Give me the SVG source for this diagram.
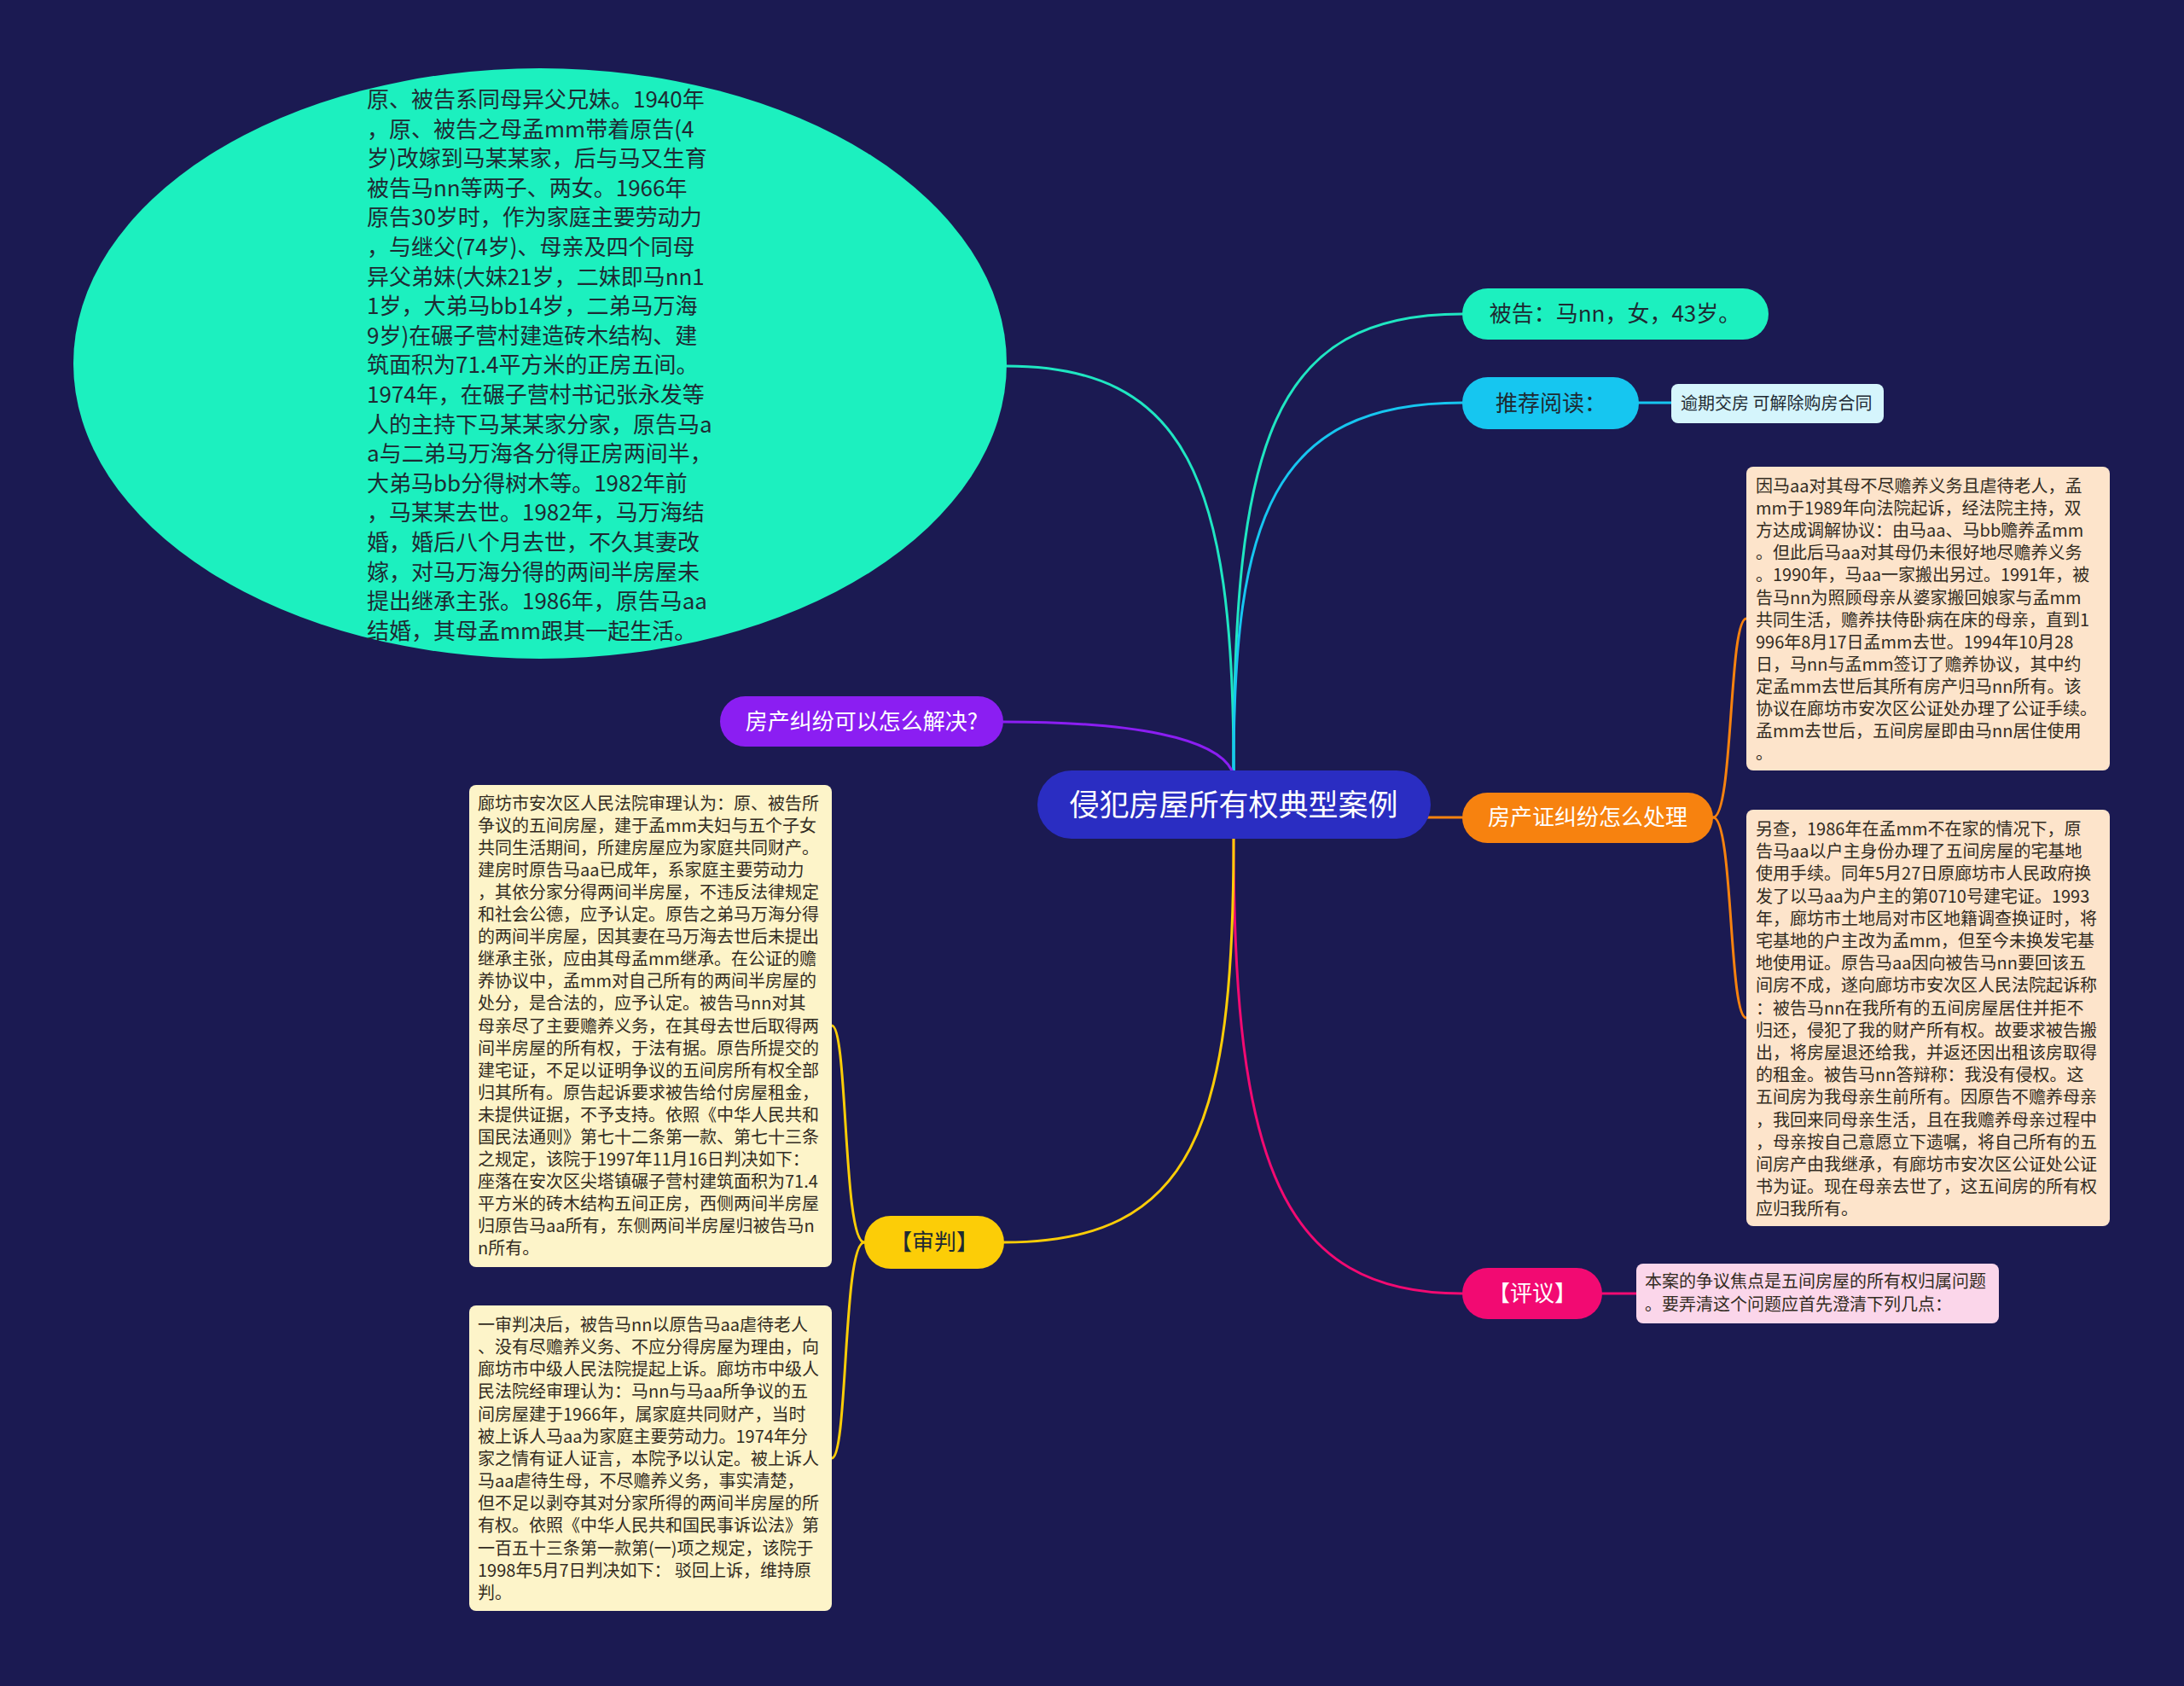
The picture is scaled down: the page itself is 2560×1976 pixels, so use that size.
<svg xmlns="http://www.w3.org/2000/svg" width="2560" height="1976" viewBox="0 0 2560 1976">
<style>
text{font-family:"Noto Sans CJK SC","Noto Sans",sans-serif;}
.conn{fill:none;stroke-width:3;stroke-linecap:round;}
.t26{font-size:26px;}
.t20{font-size:20px;}
.dark{fill:#1e2a33;}
.white{fill:#ffffff;}
.leaftxt{font-size:20px;fill:#332c22;}
.mid{text-anchor:middle;}
</style>
<rect x="0" y="0" width="2560" height="1976" fill="#1b1a52"/>

<g id="connectors">
  <path class="conn" stroke="#1fe6c2" d="M1179 429 C1390 429 1446 560 1446 903"/>
  <path class="conn" stroke="#1fe6c2" d="M1446 903 C1446 520 1490 368 1714 368"/>
  <path class="conn" stroke="#16c6f0" d="M1446 903 C1446 610 1490 472 1714 472"/>
  <path class="conn" stroke="#16c6f0" d="M1921 472 L1959 472"/>
  <path class="conn" stroke="#8b1ef2" d="M1176 846 C1330 846 1425 865 1444 903"/>
  <path class="conn" stroke="#f7820f" d="M1446 958 L1714 958"/>
  <path class="conn" stroke="#f7820f" d="M2008 958 C2032 958 2026 725 2047 725"/>
  <path class="conn" stroke="#f7820f" d="M2008 958 C2032 958 2026 1193 2047 1193"/>
  <path class="conn" stroke="#f20a72" d="M1446 983 C1446 1360 1500 1516 1714 1516"/>
  <path class="conn" stroke="#f20a72" d="M1878 1516 L1918 1516"/>
  <path class="conn" stroke="#fccd07" d="M1446 983 C1446 1320 1400 1456 1177 1456"/>
  <path class="conn" stroke="#fccd07" d="M1013 1456 C988 1456 994 1202 975 1202"/>
  <path class="conn" stroke="#fccd07" d="M1013 1456 C988 1456 994 1709 975 1709"/>
</g>

<g id="node-ellipse">
  <ellipse cx="633" cy="426" rx="547" ry="346" fill="#1cf0bf"/>
  <text class="t26 dark" x="430" y="126">
    <tspan x="430" dy="0">原、被告系同母异父兄妹。1940年</tspan>
    <tspan x="430" dy="34.6">，原、被告之母孟mm带着原告(4</tspan>
    <tspan x="430" dy="34.6">岁)改嫁到马某某家，后与马又生育</tspan>
    <tspan x="430" dy="34.6">被告马nn等两子、两女。1966年</tspan>
    <tspan x="430" dy="34.6">原告30岁时，作为家庭主要劳动力</tspan>
    <tspan x="430" dy="34.6">，与继父(74岁)、母亲及四个同母</tspan>
    <tspan x="430" dy="34.6">异父弟妹(大妹21岁，二妹即马nn1</tspan>
    <tspan x="430" dy="34.6">1岁，大弟马bb14岁，二弟马万海</tspan>
    <tspan x="430" dy="34.6">9岁)在碾子营村建造砖木结构、建</tspan>
    <tspan x="430" dy="34.6">筑面积为71.4平方米的正房五间。</tspan>
    <tspan x="430" dy="34.6">1974年，在碾子营村书记张永发等</tspan>
    <tspan x="430" dy="34.6">人的主持下马某某家分家，原告马a</tspan>
    <tspan x="430" dy="34.6">a与二弟马万海各分得正房两间半，</tspan>
    <tspan x="430" dy="34.6">大弟马bb分得树木等。1982年前</tspan>
    <tspan x="430" dy="34.6">，马某某去世。1982年，马万海结</tspan>
    <tspan x="430" dy="34.6">婚，婚后八个月去世，不久其妻改</tspan>
    <tspan x="430" dy="34.6">嫁，对马万海分得的两间半房屋未</tspan>
    <tspan x="430" dy="34.6">提出继承主张。1986年，原告马aa</tspan>
    <tspan x="430" dy="34.6">结婚，其母孟mm跟其一起生活。</tspan>
  </text>
</g>

<g id="node-center">
  <rect x="1216" y="903" width="461" height="80" rx="40" fill="#2a2dc2"/>
  <text class="white mid" x="1446" y="956" font-size="35">侵犯房屋所有权典型案例</text>
</g>

<g id="node-beigao">
  <rect x="1714" y="338" width="359" height="60" rx="30" fill="#1cf0bf"/>
  <text class="t26 dark mid" x="1893" y="377">被告：马nn，女，43岁。</text>
</g>

<g id="node-tuijian">
  <rect x="1714" y="442" width="207" height="61" rx="30" fill="#16c6f0"/>
  <text class="t26 dark mid" x="1818" y="482">推荐阅读：</text>
</g>
<g id="leaf-tuijian">
  <rect x="1959" y="450" width="249" height="46" rx="8" fill="#d5f5fc"/>
  <text class="t20 dark" x="1970" y="480">逾期交房 可解除购房合同</text>
</g>

<g id="node-jiufen">
  <rect x="844" y="816" width="332" height="59" rx="29.5" fill="#8b1ef2"/>
  <text class="t26 white mid" x="1010" y="855">房产纠纷可以怎么解决?</text>
</g>

<g id="node-fangchanzheng">
  <rect x="1714" y="929" width="294" height="59" rx="29.5" fill="#f7820f"/>
  <text class="t26 white mid" x="1861" y="967">房产证纠纷怎么处理</text>
</g>
<g id="leaf-fcz-1">
  <rect x="2047" y="547" width="426" height="356" rx="8" fill="#fde4cb"/>
  <text class="leaftxt" x="2058" y="577">
    <tspan x="2058" dy="0">因马aa对其母不尽赡养义务且虐待老人，孟</tspan>
    <tspan x="2058" dy="26.1">mm于1989年向法院起诉，经法院主持，双</tspan>
    <tspan x="2058" dy="26.1">方达成调解协议：由马aa、马bb赡养孟mm</tspan>
    <tspan x="2058" dy="26.1">。但此后马aa对其母仍未很好地尽赡养义务</tspan>
    <tspan x="2058" dy="26.1">。1990年，马aa一家搬出另过。1991年，被</tspan>
    <tspan x="2058" dy="26.1">告马nn为照顾母亲从婆家搬回娘家与孟mm</tspan>
    <tspan x="2058" dy="26.1">共同生活，赡养扶侍卧病在床的母亲，直到1</tspan>
    <tspan x="2058" dy="26.1">996年8月17日孟mm去世。1994年10月28</tspan>
    <tspan x="2058" dy="26.1">日，马nn与孟mm签订了赡养协议，其中约</tspan>
    <tspan x="2058" dy="26.1">定孟mm去世后其所有房产归马nn所有。该</tspan>
    <tspan x="2058" dy="26.1">协议在廊坊市安次区公证处办理了公证手续。</tspan>
    <tspan x="2058" dy="26.1">孟mm去世后，五间房屋即由马nn居住使用</tspan>
    <tspan x="2058" dy="26.1">。</tspan>
  </text>
</g>
<g id="leaf-fcz-2">
  <rect x="2047" y="949" width="426" height="488" rx="8" fill="#fde4cb"/>
  <text class="leaftxt" x="2058" y="979">
    <tspan x="2058" dy="0">另查，1986年在孟mm不在家的情况下，原</tspan>
    <tspan x="2058" dy="26.2">告马aa以户主身份办理了五间房屋的宅基地</tspan>
    <tspan x="2058" dy="26.2">使用手续。同年5月27日原廊坊市人民政府换</tspan>
    <tspan x="2058" dy="26.2">发了以马aa为户主的第0710号建宅证。1993</tspan>
    <tspan x="2058" dy="26.2">年，廊坊市土地局对市区地籍调查换证时，将</tspan>
    <tspan x="2058" dy="26.2">宅基地的户主改为孟mm，但至今未换发宅基</tspan>
    <tspan x="2058" dy="26.2">地使用证。原告马aa因向被告马nn要回该五</tspan>
    <tspan x="2058" dy="26.2">间房不成，遂向廊坊市安次区人民法院起诉称</tspan>
    <tspan x="2058" dy="26.2">：被告马nn在我所有的五间房屋居住并拒不</tspan>
    <tspan x="2058" dy="26.2">归还，侵犯了我的财产所有权。故要求被告搬</tspan>
    <tspan x="2058" dy="26.2">出，将房屋退还给我，并返还因出租该房取得</tspan>
    <tspan x="2058" dy="26.2">的租金。被告马nn答辩称：我没有侵权。这</tspan>
    <tspan x="2058" dy="26.2">五间房为我母亲生前所有。因原告不赡养母亲</tspan>
    <tspan x="2058" dy="26.2">，我回来同母亲生活，且在我赡养母亲过程中</tspan>
    <tspan x="2058" dy="26.2">，母亲按自己意愿立下遗嘱，将自己所有的五</tspan>
    <tspan x="2058" dy="26.2">间房产由我继承，有廊坊市安次区公证处公证</tspan>
    <tspan x="2058" dy="26.2">书为证。现在母亲去世了，这五间房的所有权</tspan>
    <tspan x="2058" dy="26.2">应归我所有。</tspan>
  </text>
</g>

<g id="node-pingyi">
  <rect x="1714" y="1486" width="164" height="60" rx="30" fill="#f20a72"/>
  <text class="t26 white mid" x="1796" y="1525">【评议】</text>
</g>
<g id="leaf-pingyi">
  <rect x="1918" y="1481" width="425" height="70" rx="8" fill="#fbd6ea"/>
  <text class="leaftxt" x="1928" y="1509">
    <tspan x="1928" dy="0">本案的争议焦点是五间房屋的所有权归属问题</tspan>
    <tspan x="1928" dy="27">。要弄清这个问题应首先澄清下列几点：</tspan>
  </text>
</g>

<g id="node-shenpan">
  <rect x="1013" y="1425" width="164" height="62" rx="31" fill="#fccd07"/>
  <text class="t26 dark mid" x="1095" y="1465">【审判】</text>
</g>
<g id="leaf-shenpan-1">
  <rect x="550" y="920" width="425" height="565" rx="8" fill="#fdf4c9"/>
  <text class="leaftxt" x="560" y="949">
    <tspan x="560" dy="0">廊坊市安次区人民法院审理认为：原、被告所</tspan>
    <tspan x="560" dy="26.05">争议的五间房屋，建于孟mm夫妇与五个子女</tspan>
    <tspan x="560" dy="26.05">共同生活期间，所建房屋应为家庭共同财产。</tspan>
    <tspan x="560" dy="26.05">建房时原告马aa已成年，系家庭主要劳动力</tspan>
    <tspan x="560" dy="26.05">，其依分家分得两间半房屋，不违反法律规定</tspan>
    <tspan x="560" dy="26.05">和社会公德，应予认定。原告之弟马万海分得</tspan>
    <tspan x="560" dy="26.05">的两间半房屋，因其妻在马万海去世后未提出</tspan>
    <tspan x="560" dy="26.05">继承主张，应由其母孟mm继承。在公证的赡</tspan>
    <tspan x="560" dy="26.05">养协议中，孟mm对自己所有的两间半房屋的</tspan>
    <tspan x="560" dy="26.05">处分，是合法的，应予认定。被告马nn对其</tspan>
    <tspan x="560" dy="26.05">母亲尽了主要赡养义务，在其母去世后取得两</tspan>
    <tspan x="560" dy="26.05">间半房屋的所有权，于法有据。原告所提交的</tspan>
    <tspan x="560" dy="26.05">建宅证，不足以证明争议的五间房所有权全部</tspan>
    <tspan x="560" dy="26.05">归其所有。原告起诉要求被告给付房屋租金，</tspan>
    <tspan x="560" dy="26.05">未提供证据，不予支持。依照《中华人民共和</tspan>
    <tspan x="560" dy="26.05">国民法通则》第七十二条第一款、第七十三条</tspan>
    <tspan x="560" dy="26.05">之规定，该院于1997年11月16日判决如下：</tspan>
    <tspan x="560" dy="26.05">座落在安次区尖塔镇碾子营村建筑面积为71.4</tspan>
    <tspan x="560" dy="26.05">平方米的砖木结构五间正房，西侧两间半房屋</tspan>
    <tspan x="560" dy="26.05">归原告马aa所有，东侧两间半房屋归被告马n</tspan>
    <tspan x="560" dy="26.05">n所有。</tspan>
  </text>
</g>
<g id="leaf-shenpan-2">
  <rect x="550" y="1530" width="425" height="358" rx="8" fill="#fdf4c9"/>
  <text class="leaftxt" x="560" y="1560">
    <tspan x="560" dy="0">一审判决后，被告马nn以原告马aa虐待老人</tspan>
    <tspan x="560" dy="26.15">、没有尽赡养义务、不应分得房屋为理由，向</tspan>
    <tspan x="560" dy="26.15">廊坊市中级人民法院提起上诉。廊坊市中级人</tspan>
    <tspan x="560" dy="26.15">民法院经审理认为：马nn与马aa所争议的五</tspan>
    <tspan x="560" dy="26.15">间房屋建于1966年，属家庭共同财产，当时</tspan>
    <tspan x="560" dy="26.15">被上诉人马aa为家庭主要劳动力。1974年分</tspan>
    <tspan x="560" dy="26.15">家之情有证人证言，本院予以认定。被上诉人</tspan>
    <tspan x="560" dy="26.15">马aa虐待生母，不尽赡养义务，事实清楚，</tspan>
    <tspan x="560" dy="26.15">但不足以剥夺其对分家所得的两间半房屋的所</tspan>
    <tspan x="560" dy="26.15">有权。依照《中华人民共和国民事诉讼法》第</tspan>
    <tspan x="560" dy="26.15">一百五十三条第一款第(一)项之规定，该院于</tspan>
    <tspan x="560" dy="26.15">1998年5月7日判决如下： 驳回上诉，维持原</tspan>
    <tspan x="560" dy="26.15">判。</tspan>
  </text>
</g>
</svg>
